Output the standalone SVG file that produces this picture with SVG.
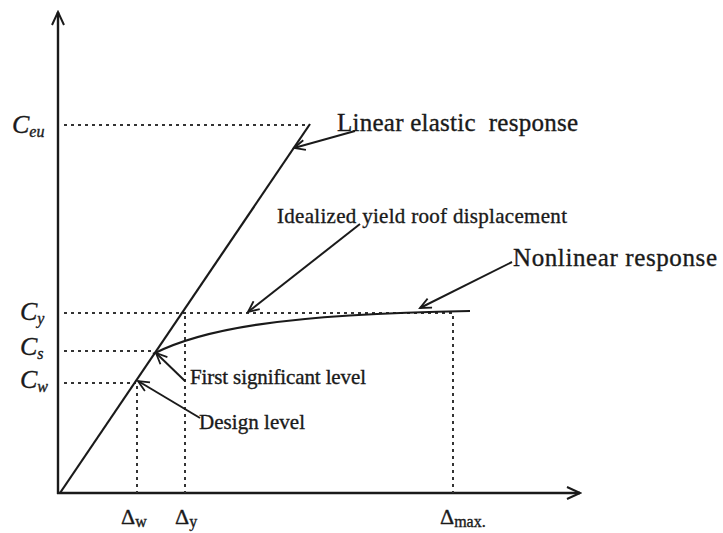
<svg xmlns="http://www.w3.org/2000/svg" width="723" height="533" viewBox="0 0 723 533">
<defs>
<marker id="arr" markerWidth="14" markerHeight="12" refX="12" refY="6" orient="auto" markerUnits="userSpaceOnUse">
<path d="M1,1 L12,6 L1,11" fill="none" stroke="#1a1a1a" stroke-width="1.8"/>
</marker>
<marker id="axarr" markerWidth="16" markerHeight="14" refX="14" refY="7" orient="auto" markerUnits="userSpaceOnUse">
<path d="M1,1 L14,7 L1,13" fill="none" stroke="#1a1a1a" stroke-width="2"/>
</marker>
</defs>
<style>
text { font-family: "Liberation Serif", "Times New Roman", serif; fill: #1a1a1a; stroke: #1a1a1a; stroke-width: 0.35; }
.lbl { font-size: 21px; }
.big { font-size: 25px; }
.ax { stroke: #1a1a1a; stroke-width: 2.4; fill: none; }
.ln { stroke: #1a1a1a; stroke-width: 2.2; fill: none; }
.dot { stroke: #333; stroke-width: 2; stroke-dasharray: 3 4; fill: none; }
.ldr { stroke: #1a1a1a; stroke-width: 2; fill: none; marker-end: url(#arr); }
.cl { font-size: 26px; font-style: italic; }
.sub { font-size: 16px; }
</style>
<rect width="723" height="533" fill="#ffffff"/>

<g id="axes">
<line class="ax" x1="58" y1="494" x2="58" y2="12" marker-end="url(#axarr)"/>
<line class="ax" x1="57" y1="493" x2="580" y2="493" marker-end="url(#axarr)"/>
</g>

<g id="guides">
<line class="dot" x1="64" y1="125" x2="310" y2="125"/>
<line class="dot" x1="64" y1="313" x2="453" y2="313"/>
<line class="dot" x1="64" y1="351" x2="155" y2="351"/>
<line class="dot" x1="64" y1="383" x2="136" y2="383"/>
<line class="dot" x1="137" y1="386" x2="137" y2="493"/>
<line class="dot" x1="185" y1="316" x2="185" y2="493"/>
<line class="dot" x1="453" y1="316" x2="453" y2="493"/>
</g>

<g id="curves">
<line class="ln" x1="60" y1="493" x2="310" y2="124"/>
<path class="ln" d="M153,354 C200,330 280,314 470,311"/>
</g>

<g id="connectors">
<line class="ldr" x1="355" y1="131" x2="294" y2="148"/>
<line class="ldr" x1="360" y1="224" x2="248" y2="312"/>
<line class="ldr" x1="512" y1="262" x2="420" y2="308"/>
<line class="ldr" x1="185" y1="381" x2="156" y2="353"/>
<line class="ldr" x1="200" y1="418" x2="138" y2="381"/>
</g>

<g id="label-linear">
<text class="big" x="337" y="131" textLength="241" xml:space="preserve">Linear elastic  response</text>
</g>
<g id="label-idealized">
<text class="lbl" x="277" y="223" textLength="290">Idealized yield roof displacement</text>
</g>
<g id="label-nonlinear">
<text class="big" x="513" y="266" textLength="204">Nonlinear response</text>
</g>
<g id="label-first">
<text class="lbl" x="190" y="384" textLength="176">First significant level</text>
</g>
<g id="label-design">
<text class="lbl" x="199" y="429" textLength="106">Design level</text>
</g>

<g id="y-labels">
<text class="cl" x="12" y="133">C<tspan class="sub" dy="4">eu</tspan></text>
<text class="cl" x="20" y="320">C<tspan class="sub" dy="4">y</tspan></text>
<text class="cl" x="20" y="355">C<tspan class="sub" dy="4">s</tspan></text>
<text class="cl" x="20" y="388">C<tspan class="sub" dy="4">w</tspan></text>
</g>

<g id="x-labels">
<text x="121" y="524" font-size="22">Δ<tspan class="sub" dy="3">w</tspan></text>
<text x="175" y="524" font-size="22">Δ<tspan class="sub" dy="3">y</tspan></text>
<text x="440" y="524" font-size="22">Δ<tspan class="sub" dy="3">max.</tspan></text>
</g>
</svg>
